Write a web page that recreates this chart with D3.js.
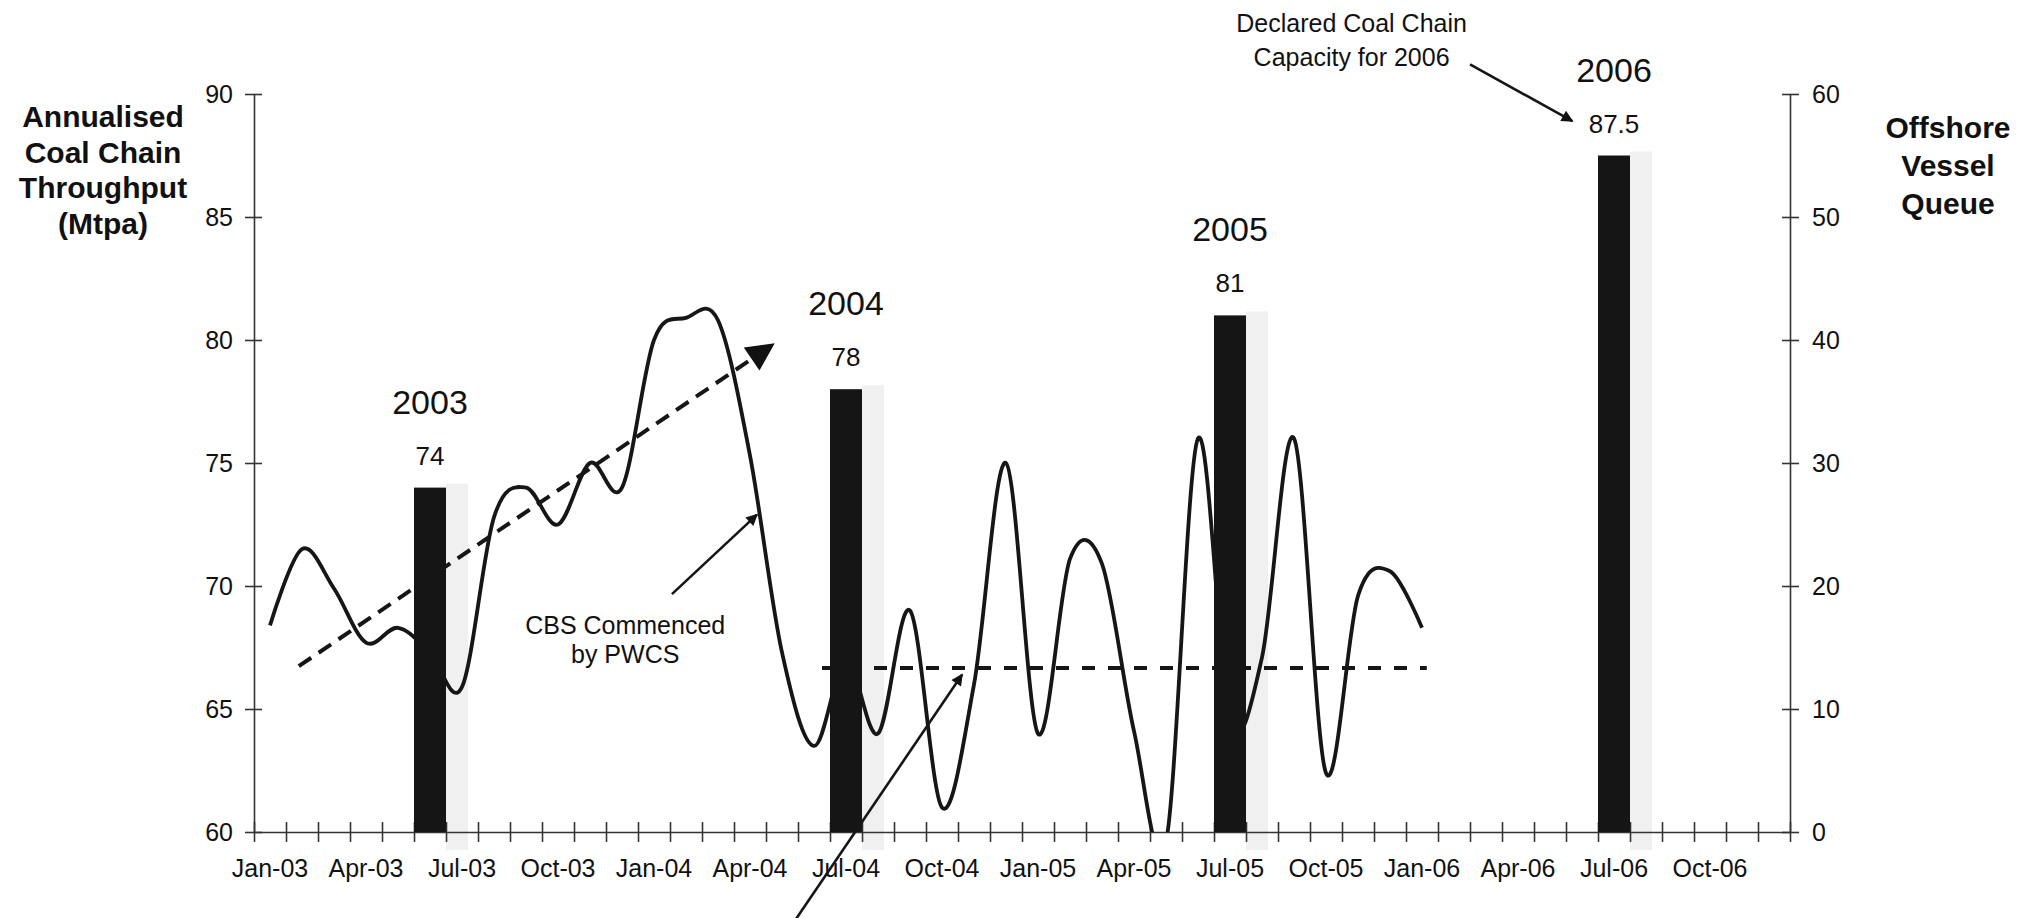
<!DOCTYPE html>
<html>
<head>
<meta charset="utf-8">
<script src="https://cdn.jsdelivr.net/npm/d3@7"></script>
<style>
  body { margin: 0; background: #fff; }
  text { font-family: "Liberation Sans", Arial, sans-serif; fill: #111; }
</style>
</head>
<body>
<div id="chart"></div>
<script>
// month categories on the x axis (Jan-03 .. Dec-06)
const months = [
  "Jan-03","Feb-03","Mar-03","Apr-03","May-03","Jun-03","Jul-03","Aug-03","Sep-03","Oct-03","Nov-03","Dec-03",
  "Jan-04","Feb-04","Mar-04","Apr-04","May-04","Jun-04","Jul-04","Aug-04","Sep-04","Oct-04","Nov-04","Dec-04",
  "Jan-05","Feb-05","Mar-05","Apr-05","May-05","Jun-05","Jul-05","Aug-05","Sep-05","Oct-05","Nov-05","Dec-05",
  "Jan-06","Feb-06","Mar-06","Apr-06","May-06","Jun-06","Jul-06","Aug-06","Sep-06","Oct-06","Nov-06","Dec-06"
];
const monthTickLabels = ["Jan-03","Apr-03","Jul-03","Oct-03","Jan-04","Apr-04","Jul-04","Oct-04",
  "Jan-05","Apr-05","Jul-05","Oct-05","Jan-06","Apr-06","Jul-06","Oct-06"];

// annualised coal chain throughput (Mtpa), Jan-03 .. Jan-06
const throughput = [
  68.4, 71.5, 69.9, 67.7, 68.3, 67.3, 65.9, 72.8, 74.0, 72.5, 75.0, 74.0,
  80.0, 80.9, 80.8, 75.3, 67.3, 63.5, 67.0, 64.0, 69.0, 61.0, 66.0, 75.0,
  64.0, 71.1, 70.9, 64.1, 59.6, 76.0, 64.5, 67.1, 76.0, 62.4, 69.6, 70.6,
  68.3
];

// declared capacity bars
const capYears = ["2003", "2004", "2005", "2006"];
const capMonths = ["Jun-03", "Jul-04", "Jul-05", "Jul-06"];
const capValues = [74, 78, 81, 87.5];

const leftTicks = [60, 65, 70, 75, 80, 85, 90];
const rightTicks = [0, 10, 20, 30, 40, 50, 60];

// dashed guides, [month position, Mtpa]
const growthTrend = [[1.4, 66.74], [16.13, 79.74]];
const flatTrend = [[17.75, 66.67], [36.65, 66.67]];

// annotation arrows, [month position, Mtpa]
const cbsArrow = [[13.06, 69.67], [15.72, 72.9]];
const queueArrow = [[16.8, 56.2], [22.13, 66.4]];
const declaredArrow = [[38.0, 91.2], [41.2, 88.9]];
const cbsText = ["CBS Commenced", "by PWCS"];
const declaredText = ["Declared Coal Chain", "Capacity for 2006"];

const W = 2033, H = 918;
const margin = {top: 94, right: 243, bottom: 86, left: 254};
const x0 = margin.left, x1 = W - margin.right, y0 = H - margin.bottom, y1 = margin.top;

const svg = d3.select("#chart").append("svg")
    .attr("width", W).attr("height", H);

const xBand = d3.scaleBand().domain(months).range([x0, x1]).padding(0);
const xPos = d3.scaleLinear().domain([0, months.length]).range([x0, x1]);
const yL = d3.scaleLinear().domain([60, 90]).range([y0, y1]);
const yR = d3.scaleLinear().domain([0, 60]).range([y0, y1]);

const defs = svg.append("defs");
defs.append("clipPath").attr("id", "plot")
  .append("rect").attr("x", x0).attr("y", y1 - 40).attr("width", x1 - x0).attr("height", y0 - y1 + 40);
defs.append("marker").attr("id", "headBig").attr("viewBox", "0 0 10 10")
    .attr("refX", 8).attr("refY", 5).attr("markerWidth", 8).attr("markerHeight", 7)
    .attr("orient", "auto").attr("markerUnits", "strokeWidth")
  .append("path").attr("d", "M0,0L10,5L0,10z").attr("fill", "#111");
defs.append("marker").attr("id", "head").attr("viewBox", "0 0 10 10")
    .attr("refX", 9).attr("refY", 5).attr("markerWidth", 6.5).attr("markerHeight", 4.5)
    .attr("orient", "auto").attr("markerUnits", "strokeWidth")
  .append("path").attr("d", "M0,0L10,5L0,10z").attr("fill", "#111");

// scan-like grey halo right of the bars
svg.append("g").selectAll("rect").data(capValues).join("rect")
    .attr("x", (d, i) => xBand(capMonths[i]) + xBand.bandwidth())
    .attr("y", d => yL(d) - 4)
    .attr("width", 22)
    .attr("height", d => y0 - yL(d) + 22)
    .attr("fill", "#f0f0f0");

// axes
const axL = svg.append("g").attr("transform", `translate(${x0},0)`)
    .call(d3.axisLeft(yL).tickValues(leftTicks).tickSize(9).tickPadding(12).tickSizeOuter(0));
const axR = svg.append("g").attr("transform", `translate(${x1},0)`)
    .call(d3.axisRight(yR).tickValues(rightTicks).tickSize(9).tickPadding(13).tickSizeOuter(0));
const axB = svg.append("g").attr("transform", `translate(0,${y0})`)
    .call(d3.axisBottom(xPos).tickValues(d3.range(0, months.length + 1)).tickFormat("").tickSize(10).tickSizeOuter(0));
axL.selectAll(".tick line").attr("x1", 8);
axR.selectAll(".tick line").attr("x1", -8);
axB.selectAll(".tick line").attr("y1", -10);
[axL, axR, axB].forEach(a => {
  a.selectAll("path,line").attr("stroke", "#333").attr("stroke-width", 1.6);
  a.selectAll("text").style("font-size", "25px").attr("fill", "#111");
});

svg.append("g").selectAll("text").data(monthTickLabels).join("text")
    .attr("x", d => xBand(d) + xBand.bandwidth() / 2)
    .attr("y", y0 + 45)
    .attr("text-anchor", "middle")
    .style("font-size", "25px")
    .text(d => d);

// throughput line
const line = d3.line()
    .x((d, i) => xBand(months[i]) + xBand.bandwidth() / 2)
    .y(d => yL(d))
    .curve(d3.curveCatmullRom.alpha(0));
svg.append("path").datum(throughput)
    .attr("clip-path", "url(#plot)")
    .attr("d", line)
    .attr("fill", "none").attr("stroke", "#161616").attr("stroke-width", 3.8);

// dashed guides
const guide = d3.line().x(d => xPos(d[0])).y(d => yL(d[1]));
svg.append("path").datum(flatTrend).attr("d", guide)
    .attr("fill", "none").attr("stroke", "#161616").attr("stroke-width", 4)
    .attr("stroke-dasharray", "13,13");

// bars
svg.append("g").selectAll("rect").data(capValues).join("rect")
    .attr("x", (d, i) => xBand(capMonths[i]))
    .attr("y", d => yL(d))
    .attr("width", xBand.bandwidth())
    .attr("height", d => y0 - yL(d))
    .attr("fill", "#151515");

svg.append("path").datum(growthTrend).attr("d", guide)
    .attr("fill", "none").attr("stroke", "#161616").attr("stroke-width", 4)
    .attr("stroke-dasharray", "15,9")
    .attr("marker-end", "url(#headBig)");

// bar labels
svg.append("g").selectAll("text").data(capValues).join("text")
    .attr("x", (d, i) => xBand(capMonths[i]) + xBand.bandwidth() / 2)
    .attr("y", d => yL(d) - 23)
    .attr("text-anchor", "middle")
    .style("font-size", "26px")
    .text(d => d);
svg.append("g").selectAll("text").data(capYears).join("text")
    .attr("x", (d, i) => xBand(capMonths[i]) + xBand.bandwidth() / 2)
    .attr("y", (d, i) => yL(capValues[i]) - 74)
    .attr("text-anchor", "middle")
    .style("font-size", "34px")
    .text(d => d);

// arrows
[cbsArrow, queueArrow, declaredArrow].forEach(a => {
  svg.append("path").datum(a).attr("d", guide)
      .attr("fill", "none").attr("stroke", "#161616").attr("stroke-width", 2.6)
      .attr("marker-end", "url(#head)");
});

// annotation texts
svg.append("g").selectAll("text").data(cbsText).join("text")
    .attr("x", xPos(11.6))
    .attr("y", (d, i) => yL(68.4) + 9 + i * 29)
    .attr("text-anchor", "middle")
    .style("font-size", "25px")
    .text(d => d);
svg.append("g").selectAll("text").data(declaredText).join("text")
    .attr("x", xPos(34.3))
    .attr("y", (d, i) => yL(92.9) + 9 + i * 34)
    .attr("text-anchor", "middle")
    .style("font-size", "25px")
    .text(d => d);

// axis titles
const leftTitle = ["Annualised", "Coal Chain", "Throughput", "(Mtpa)"];
const rightTitle = ["Offshore", "Vessel", "Queue"];
svg.append("g").selectAll("text").data(leftTitle).join("text")
    .attr("x", 103).attr("y", (d, i) => 127 + i * 35.5)
    .attr("text-anchor", "middle")
    .style("font-size", "30px").style("font-weight", "bold")
    .text(d => d);
svg.append("g").selectAll("text").data(rightTitle).join("text")
    .attr("x", 1948).attr("y", (d, i) => 138 + i * 38)
    .attr("text-anchor", "middle")
    .style("font-size", "30px").style("font-weight", "bold")
    .text(d => d);
</script>
</body>
</html>
